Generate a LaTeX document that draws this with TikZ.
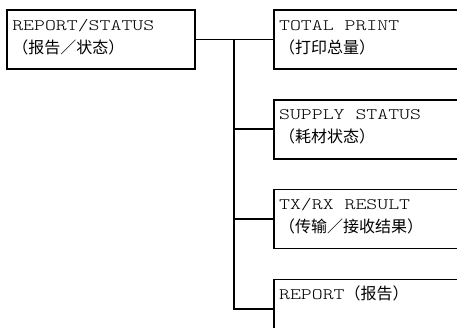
\documentclass[tikz,border=0pt]{standalone}
\usepackage{fontspec}
\usetikzlibrary{positioning}
\newfontfamily\lmono[FakeStretch=1.3]{Latin Modern Mono Light}
\newfontfamily\cjk{Noto Sans CJK SC}

\begin{document}
\begin{tikzpicture}[x=1pt, y=-1pt,
  menubox/.style={rectangle, draw=black, line width=1.8pt, minimum height=59pt, inner sep=0pt},
  subbox/.style={menubox, minimum width=200pt},
  lbl/.style={anchor=base west, inner sep=0pt, align=left,
              font=\lmono\fontsize{16}{23}\selectfont},
  conn/.style={line width=1.8pt, line cap=rect}
]
  \clip (0,0) rectangle (457,328);
  \node[menubox, minimum width=188pt] (rep) at (101,39.5) {};
  \node[subbox, right=77pt of rep] (tot) {};
  \node[subbox, below=29pt of tot] (sup) {};
  \node[subbox, below=29pt of sup] (txrx) {};
  \node[subbox, below=29pt of txrx] (rpt) {};
  \coordinate (spine) at (234,0);

  % labels
  \node[lbl] (replbl) at ([xshift=6pt, yshift=-44pt]rep.north west)
    {REPORT/STATUS\\{\cjk （报告／状态）}};
  \node[lbl] (totlbl) at ([xshift=6pt, yshift=-44pt]tot.north west)
    {TOTAL PRINT\\{\cjk （打印总量）}};
  \node[lbl] (suplbl) at ([xshift=6pt, yshift=-44pt]sup.north west)
    {SUPPLY STATUS\\{\cjk （耗材状态）}};
  \node[lbl] (txrxlbl) at ([xshift=6pt, yshift=-44pt]txrx.north west)
    {TX/RX RESULT\\{\cjk （传输／接收结果）}};
  \node[lbl] (rptlbl) at ([xshift=6pt, yshift=-21pt]rpt.north west)
    {REPORT{\cjk （报告）}};

  % connectors
  \draw[conn] (rep.east) -- (tot.west);
  \draw[conn] (spine |- tot.west) -- (spine |- rpt.west);
  \foreach \n in {sup, txrx, rpt}
    \draw[conn] (spine |- \n.west) -- (\n.west);
\end{tikzpicture}
\end{document}
